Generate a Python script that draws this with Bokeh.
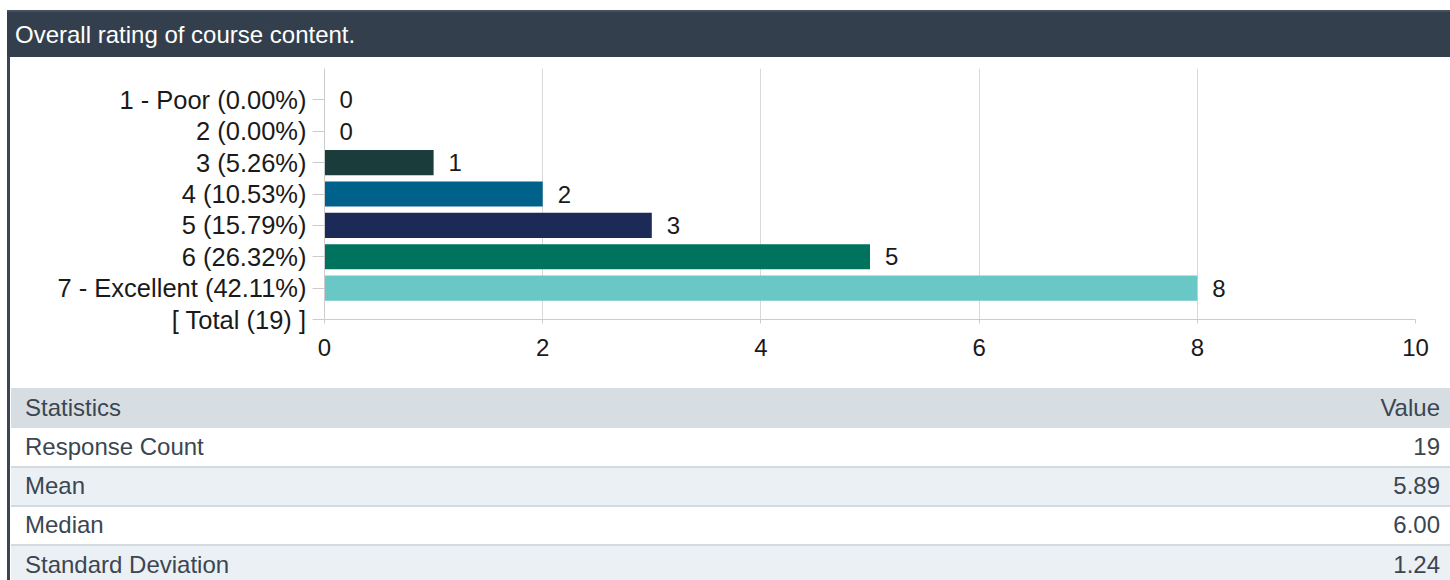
from bokeh.plotting import figure
from bokeh.models import Range1d, FixedTicker, Div, ColumnDataSource
from bokeh.layouts import column, row
from bokeh.core.properties import value
from bokeh.embed import file_html
from bokeh.resources import INLINE

# ---- data ----
title_text = "Overall rating of course content."
categories = ["1 - Poor (0.00%)", "2 (0.00%)", "3 (5.26%)", "4 (10.53%)",
              "5 (15.79%)", "6 (26.32%)", "7 - Excellent (42.11%)", "[ Total (19) ]"]
counts = [0, 0, 1, 2, 3, 5, 8]
bar_colors = ["#1a3c3a", "#1a3c3a", "#1a3c3a", "#00618a", "#1c2a57", "#00735e", "#69c7c5"]
x_ticks = [0, 2, 4, 6, 8, 10]
stats_header = ["Statistics", "Value"]
stats_labels = ["Response Count", "Mean", "Median", "Standard Deviation"]
stats_values = ["19", "5.89", "6.00", "1.24"]

FONT = "Liberation Sans"
n = len(categories)
positions = [n - 1 - i for i in range(n)]

# ---- title bar ----
title_div = Div(
    text=f'<div style="padding-left:8px;line-height:49px;height:47px;white-space:nowrap;">{title_text}</div>',
    width=1443, height=47, margin=(10, 0, 0, 7),
    styles={"background-color": "#343f4d", "color": "#ffffff",
            "box-shadow": "inset 0 2px 0 #46515f",
            "font-family": f"'{FONT}', Arial, sans-serif", "font-size": "24px"},
)

# ---- chart ----
src = ColumnDataSource(dict(
    y=positions[:len(counts)],
    right=counts,
    color=bar_colors,
    label=[str(c) for c in counts],
))

p = figure(width=1440, height=331, output_backend="svg", toolbar_location=None,
           x_range=Range1d(0, 10), y_range=Range1d(0, n),
           min_border_left=314, min_border_right=35, min_border_top=11, min_border_bottom=69,
           margin=(0, 0, 0, 0))
p.outline_line_color = None
p.background_fill_color = "#ffffff"
p.border_fill_color = "#ffffff"

p.hbar(y="y", right="right", left=0, height=0.8, color="color", line_color=None, source=src)
p.text(x="right", y="y", text="label", source=src, x_offset=15,
       text_baseline="middle", text_align="left",
       text_font=value(FONT), text_font_size="24px", text_color="#1a1a1a")

p.ygrid.grid_line_color = None
p.xgrid.grid_line_color = "#d9d9d9"
p.xgrid.ticker = FixedTicker(ticks=x_ticks)

p.xaxis.ticker = FixedTicker(ticks=x_ticks)
p.xaxis.axis_line_color = "#cccccc"
p.xaxis.major_tick_line_color = "#cccccc"
p.xaxis.major_tick_out = 4
p.xaxis.major_tick_in = 0
p.xaxis.minor_tick_line_color = None
p.xaxis.major_label_standoff = 15
p.xaxis.major_label_text_font = FONT
p.xaxis.major_label_text_font_size = "24px"
p.xaxis.major_label_text_color = "#1a1a1a"

p.yaxis.ticker = FixedTicker(ticks=positions)
p.yaxis.major_label_overrides = {pos: lab for pos, lab in zip(positions, categories)}
p.yaxis.axis_line_color = "#cccccc"
p.yaxis.major_tick_line_color = "#cccccc"
p.yaxis.major_tick_out = 12
p.yaxis.major_tick_in = 0
p.yaxis.minor_tick_line_color = None
p.yaxis.major_label_standoff = 6
p.yaxis.major_label_text_font = FONT
p.yaxis.major_label_text_font_size = "25.5px"
p.yaxis.major_label_text_color = "#1a1a1a"

# ---- statistics table ----
cell = "padding:0 10px 0 14px;"
rows_html = (f'<tr style="background:#d6dee3;height:40px;">'
             f'<td style="{cell}">{stats_header[0]}</td>'
             f'<td style="{cell}text-align:right;">{stats_header[1]}</td></tr>')
for i, (lab, val) in enumerate(zip(stats_labels, stats_values)):
    bg = "#ffffff" if i % 2 == 0 else "#ebf0f4"
    border = "border-top:2px solid #d3dbe1;" if i > 0 else ""
    rows_html += (f'<tr style="background:{bg};height:39px;">'
                  f'<td style="{cell}{border}">{lab}</td>'
                  f'<td style="{cell}{border}text-align:right;">{val}</td></tr>')
table_div = Div(
    text=(f'<table style="width:1439px;border-collapse:collapse;margin:0;'
          f'font-family:\'{FONT}\', Arial, sans-serif;font-size:24px;color:#3b4651;">'
          f'{rows_html}</table>'),
    width=1439, height=192, margin=(0, 0, 0, 1),
    styles={"overflow": "hidden", "background-color": "#ffffff"},
)

border_div = Div(text="", width=3, height=523, margin=(0, 0, 0, 7),
                 styles={"background-color": "#3a4555"})

layout = column(title_div,
                row(border_div, column(p, table_div, spacing=0), spacing=0),
                spacing=0, margin=(0, 0, 0, 0))

open("out.html", "w").write(file_html(layout, INLINE))
